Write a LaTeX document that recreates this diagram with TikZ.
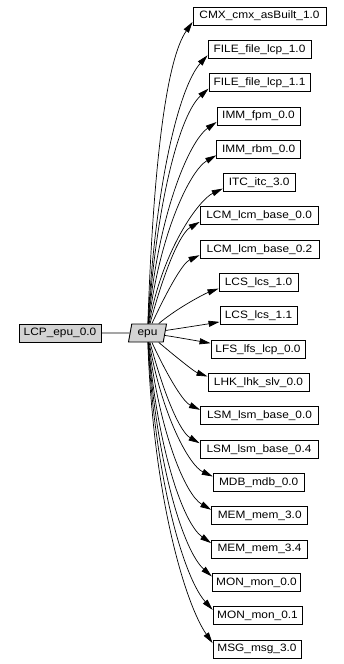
\documentclass[tikz,border=0pt]{standalone}
\usepackage{fontspec}
\newfontfamily\gvfont{Liberation Sans}[FakeStretch=1.11]
\usetikzlibrary{shapes.geometric,arrows.meta}
\definecolor{gvgray}{HTML}{D3D3D3}
\begin{document}
\begin{tikzpicture}[x=1pt,y=1pt,
  box/.style={draw=black, line width=0.9pt, rectangle, minimum height=18pt, inner xsep=4pt, inner ysep=0pt,
    font=\gvfont\fontsize{10.7}{12}\selectfont, text height=7.8pt, text depth=2.2pt},
  graybox/.style={box, fill=gvgray},
  para/.style={box, fill=gvgray, trapezium, trapezium left angle=72, trapezium right angle=108,
    trapezium stretches body, minimum width=38pt},
  edge/.style={draw=black, line width=0.7pt, -{Triangle[length=11pt,width=6pt]}},
  link/.style={draw=black, line width=0.7pt}]
\useasboundingbox (0,0) rectangle (343,-664);
\node[graybox, minimum width=82pt] (lcp) at (60,-333) {LCP\_epu\_0.0};
\node[para] (epu) at (147.5,-333) {epu};
\draw[link] (lcp) -- (epu);
\foreach \n/\t/\x/\y/\w/\o/\i in {
  cmx/CMX\_cmx\_asBuilt\_1.0/259.5/16/133/88/235,
  filea/FILE\_file\_lcp\_1.0/259.5/49.3/103/87/228,
  fileb/FILE\_file\_lcp\_1.1/259.5/82.6/101/86/222,
  imma/IMM\_fpm\_0.0/258.5/116/83/85/215,
  immb/IMM\_rbm\_0.0/258.7/149.3/84/83/210,
  itc/ITC\_itc\_3.0/259.2/182.6/72/80/205,
  lcma/LCM\_lcm\_base\_0.0/259.2/215.9/118/75/210,
  lcmb/LCM\_lcm\_base\_0.2/259.5/249.2/119/65/205,
  lcsa/LCS\_lcs\_1.0/258.5/282.6/79/40/200,
  lcsb/LCS\_lcs\_1.1/258.5/315.9/77/8/190,
  lfs/LFS\_lfs\_lcp\_0.0/258/349.2/94/-8/170,
  lhk/LHK\_lhk\_slv\_0.0/258.5/382.5/101/-40/160,
  lsma/LSM\_lsm\_base\_0.0/259.5/415.8/118/-65/155,
  lsmb/LSM\_lsm\_base\_0.4/259/449.2/118/-75/150,
  mdb/MDB\_mdb\_0.0/258.7/482.5/91/-80/155,
  mema/MEM\_mem\_3.0/259.7/515.8/96/-83/150,
  memb/MEM\_mem\_3.4/259.5/549.1/96/-85/145,
  mona/MON\_mon\_0.0/256.5/582.4/88/-86/138,
  monb/MON\_mon\_0.1/257.5/615.8/89/-87/132,
  msg/MSG\_msg\_3.0/257/649.1/88/-88/125}
{
  \node[box, minimum width=\w pt] (\n) at (\x,-\y) {\t};
  \pgfmathsetmacro\dy{abs(\y-333)}
  \pgfmathsetmacro\od{0.5*\dy}
  \pgfmathsetmacro\id{0.12*\dy+8}
  \pgfmathsetmacro\ys{\y<333 ? -6 : 6}
  \draw[edge] (epu) to[out=\o, in=\i, out distance=\od pt, in distance=\id pt] ([yshift=\ys pt]\n.west);
}
\end{tikzpicture}
\end{document}
